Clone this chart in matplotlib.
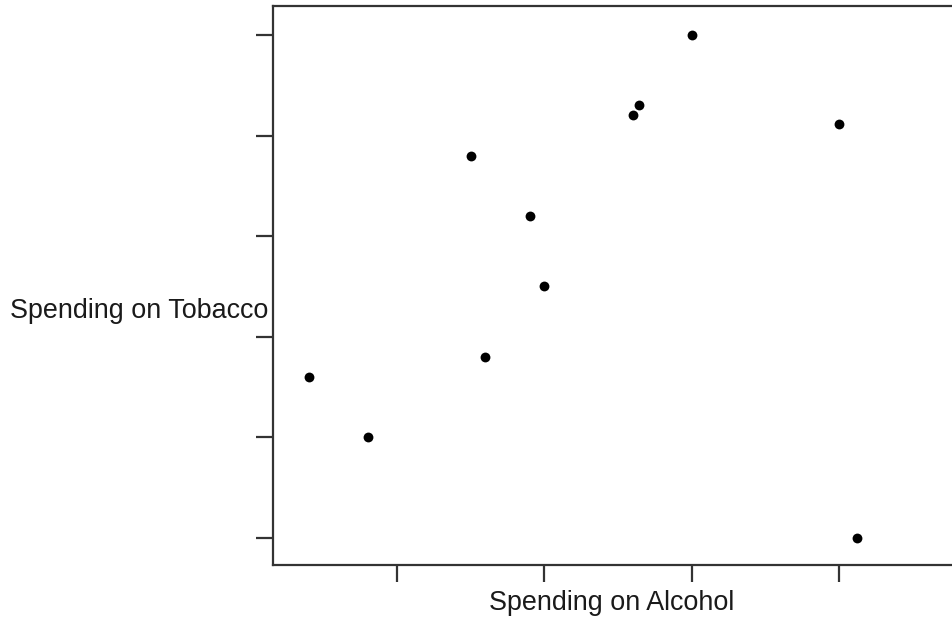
import matplotlib
matplotlib.use("Agg")
import matplotlib.pyplot as plt

plt.rcParams['font.family'] = ['Liberation Sans', 'DejaVu Sans']

# horizontal axis labelled "Spending on Alcohol"
x_values = [2.70, 2.90, 3.25, 3.45, 3.50, 3.30, 4.00, 3.82, 3.80, 4.50, 4.56]
# vertical axis labelled "Spending on Tobacco"
y_values = [4.80, 4.50, 5.90, 5.60, 5.25, 4.90, 6.50, 6.15, 6.10, 6.06, 4.00]
x_ticks = [3.0, 3.5, 4.0, 4.5]
y_ticks = [4.0, 4.5, 5.0, 5.5, 6.0, 6.5]

W, H = 953, 621
fig = plt.figure(figsize=(W / 100, H / 100), dpi=100)
ax = fig.add_axes([273 / W, 1 - 565 / H, (W - 273) / W, (565 - 6) / H])

ax.scatter(x_values, y_values, s=50, color='black', zorder=3, linewidths=0)

ax.set_xlim(2.5792, 4.8867)
ax.set_ylim(3.8658, 6.6441)
ax.set_xticks(x_ticks)
ax.set_yticks(y_ticks)
ax.set_xticklabels([])
ax.set_yticklabels([])
ax.spines['right'].set_visible(False)
for s in ['left', 'top', 'bottom']:
    ax.spines[s].set_color('#333333')
    ax.spines[s].set_linewidth(1.6)
ax.tick_params(direction='out', length=12, width=1.6, color='#333333')

fig.text(612 / W, 1 - 610 / H, "Spending on Alcohol", fontsize=19.4, color='#1a1a1a',
         ha='center', va='baseline')
fig.text(268 / W, 1 - 318 / H, "Spending on Tobacco", fontsize=19.4, color='#1a1a1a',
         ha='right', va='baseline')

fig.savefig("out.png", dpi=100)
